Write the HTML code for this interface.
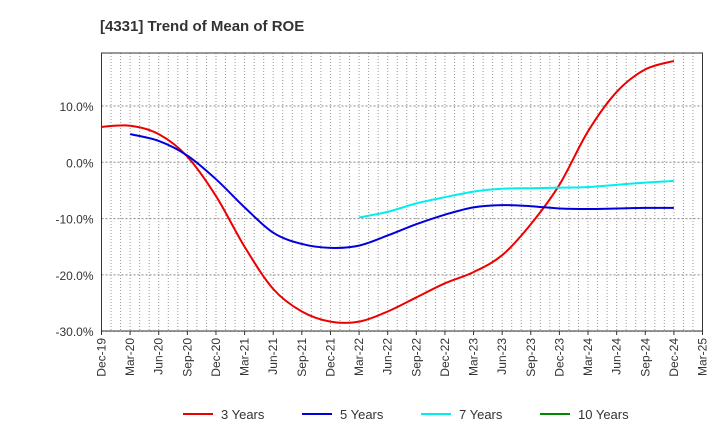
<!DOCTYPE html>
<html><head><meta charset="utf-8"><style>
body{margin:0;background:#fff;font-family:"Liberation Sans",sans-serif}
svg text{font-family:"Liberation Sans",sans-serif;fill:#333}
</style></head><body>
<svg id="c" width="720" height="440"></svg>
<script>
const xLabels=["Dec-19","Mar-20","Jun-20","Sep-20","Dec-20","Mar-21","Jun-21","Sep-21","Dec-21","Mar-22","Jun-22","Sep-22","Dec-22","Mar-23","Jun-23","Sep-23","Dec-23","Mar-24","Jun-24","Sep-24","Dec-24","Mar-25"];
const yTicks=[10,0,-10,-20,-30];
const s3=[6.3,6.5,5,1,-6,-15,-22.5,-26.5,-28.3,-28.3,-26.5,-24,-21.5,-19.5,-16.5,-11,-4,5.5,12.5,16.5,18];
const s5=[null,5,3.8,1.2,-3,-8,-12.5,-14.5,-15.2,-14.8,-13,-11,-9.3,-8,-7.6,-7.8,-8.2,-8.3,-8.2,-8.1,-8.1];
const s7=[null,null,null,null,null,null,null,null,null,-9.8,-8.8,-7.3,-6.2,-5.2,-4.7,-4.6,-4.5,-4.4,-4,-3.6,-3.3];
const s10=[];
const L=101.5,R=702.5,T=53,B=331;
const X=i=>L+(R-L)*i/21;
const Y=v=>162.3-v*5.63;
const svg=document.getElementById('c');const NS="http://www.w3.org/2000/svg";
function mk(t,a,p){const e=document.createElementNS(NS,t);for(const k in a)e.setAttribute(k,a[k]);(p||svg).appendChild(e);return e;}
let t=mk('text',{x:100,y:31,'font-size':15,'font-weight':'bold'});t.textContent="[4331]  Trend of Mean of ROE";

for(let m=1;m<63;m++){const x=L+(R-L)*m/63;mk('line',{x1:x,x2:x,y1:T,y2:B,stroke:'#999','stroke-dasharray':'1,2','stroke-width':1});}
yTicks.forEach(v=>{const y=Y(v);mk('line',{x1:L,x2:R,y1:y,y2:y,stroke:'#888','stroke-dasharray':'2,2'});
const tx=mk('text',{x:L-8,y:y+5,'text-anchor':'end','font-size':12});tx.textContent=v.toFixed(1)+'%';
});
const fr=mk('rect',{x:L,y:T,width:R-L,height:B-T,fill:'none',stroke:'#333'});

xLabels.forEach((l,i)=>{const x=X(i);mk('line',{x1:x,x2:x,y1:B,y2:B+4,stroke:'#333'});
const tx=mk('text',{transform:`translate(${x+4},${B+7}) rotate(-90)`,'text-anchor':'end','font-size':12});tx.textContent=l;
});
function path(d){const p=[];d.forEach((v,i)=>{if(v!=null)p.push([X(i),Y(v)]);});if(p.length<2)return '';
let s=`M${p[0][0]},${p[0][1]}`;for(let i=0;i<p.length-1;i++){const p0=p[i-1]||p[i],p1=p[i],p2=p[i+1],p3=p[i+2]||p2;
s+=`C${p1[0]+(p2[0]-p0[0])/6},${p1[1]+(p2[1]-p0[1])/6} ${p2[0]-(p3[0]-p1[0])/6},${p2[1]-(p3[1]-p1[1])/6} ${p2[0]},${p2[1]}`;}return s;}
const series=[[s3,'#e00','3 Years','line-3-years'],[s5,'#00d','5 Years','line-5-years'],[s7,'#0ee','7 Years','line-7-years'],[s10,'#080','10 Years','line-10-years']];
series.forEach(([d,c,n,id])=>{const dd=path(d);if(dd){const e=mk('path',{d:dd,fill:'none',stroke:c,'stroke-width':2});
}});
const lx=[183,302,421,540];
series.forEach(([d,c,n],i)=>{const g=mk('g',{});
mk('line',{x1:lx[i],x2:lx[i]+30,y1:414,y2:414,stroke:c,'stroke-width':2},g);
const tx=mk('text',{x:lx[i]+38,y:419,'font-size':13},g);tx.textContent=n;});
</script></body></html>
